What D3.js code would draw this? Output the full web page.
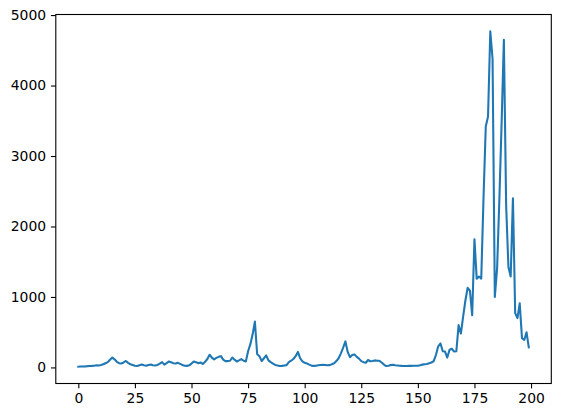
<!DOCTYPE html>
<html>
<head>
<meta charset="utf-8">
<script src="https://cdn.jsdelivr.net/npm/d3@7"></script>
<style>
  body { margin: 0; background: #fff; }
  .tick text { font-family: "DejaVu Sans", sans-serif; font-size: 13.9px; fill: #000; }
</style>
</head>
<body>
<div id="chart"></div>
<script>
'use strict';

// values, one per x step (0..199)
const values = [
    10, 12, 14, 15, 18, 20, 22, 25, 30, 28,
    35, 45, 60, 75, 110, 140, 115, 80, 60, 55,
    70, 92, 65, 45, 35, 25, 20, 30, 40, 30,
    25, 35, 40, 30, 28, 35, 55, 75, 40, 60,
    85, 75, 60, 55, 65, 50, 35, 25, 22, 30,
    55, 85, 75, 60, 70, 50, 80, 120, 180, 140,
    115, 135, 150, 160, 110, 90, 90, 95, 140, 110,
    85, 100, 118, 95, 85, 230, 330, 470, 650, 190,
    160, 90, 130, 170, 100, 75, 55, 35, 28, 20,
    22, 28, 33, 75, 95, 120, 160, 220, 130, 85,
    65, 57, 40, 25, 22, 25, 30, 35, 38, 35,
    32, 33, 45, 60, 90, 130, 200, 280, 370, 220,
    145, 175, 185, 150, 125, 90, 75, 66, 105, 88,
    92, 100, 95, 94, 70, 40, 20, 25, 33, 38,
    30, 28, 25, 22, 20, 20, 22, 22, 24, 25,
    25, 30, 40, 45, 50, 60, 70, 90, 180, 300,
    340, 230, 225, 140, 250, 265, 225, 230, 600, 480,
    720, 950, 1130, 1090, 740, 1820, 1260, 1290, 1260, 2400,
    3420, 3560, 4770, 4380, 1000, 1400, 2380, 3470, 4650, 2300,
    1430, 1290, 2400, 770, 700, 910, 415, 390, 500, 284
];
const xTicks = [0, 25, 50, 75, 100, 125, 150, 175, 200];
const yTicks = [0, 1000, 2000, 3000, 4000, 5000];

const width = 561;
const height = 417;
const margin = { top: 14.5, right: 9.7, bottom: 33.5, left: 55.8 };

const svg = d3.select("#chart")
    .append("svg")
    .attr("width", width)
    .attr("height", height);

// matplotlib style 5% padding on both axes
const n = values.length;
const xPad = (n - 1) * 0.05;
const [yMin, yMax] = d3.extent(values);
const yPad = (yMax - yMin) * 0.05;

const xScale = d3.scaleLinear()
    .domain([-xPad, n - 1 + xPad])
    .range([margin.left, width - margin.right]);

const yScale = d3.scaleLinear()
    .domain([yMin - yPad, yMax + yPad])
    .range([height - margin.bottom, margin.top]);

const line = d3.line()
    .x((d, i) => xScale(i))
    .y(d => yScale(d));

svg.append("path")
    .datum(values)
    .attr("fill", "none")
    .attr("stroke", "#1f77b4")
    .attr("stroke-width", 2.08)
    .attr("stroke-linejoin", "round")
    .attr("stroke-linecap", "square")
    .attr("d", line);

const xAxis = d3.axisBottom(xScale)
    .tickValues(xTicks)
    .tickSize(4.86)
    .tickPadding(4.86)
    .tickFormat(d3.format("d"));

const yAxis = d3.axisLeft(yScale)
    .tickValues(yTicks)
    .tickSize(4.86)
    .tickPadding(4.86)
    .tickFormat(d3.format("d"));

const gx = svg.append("g")
    .attr("transform", `translate(0,${height - margin.bottom})`)
    .call(xAxis);
gx.select(".domain").remove();
gx.selectAll(".tick line").attr("stroke", "#000").attr("stroke-width", 1.1);

const gy = svg.append("g")
    .attr("transform", `translate(${margin.left},0)`)
    .call(yAxis);
gy.select(".domain").remove();
gy.selectAll(".tick line").attr("stroke", "#000").attr("stroke-width", 1.1);

// the box round the plot
svg.append("rect")
    .attr("x", margin.left)
    .attr("y", margin.top)
    .attr("width", width - margin.left - margin.right)
    .attr("height", height - margin.top - margin.bottom)
    .attr("fill", "none")
    .attr("stroke", "#000")
    .attr("stroke-width", 1.1);
</script>
</body>
</html>
